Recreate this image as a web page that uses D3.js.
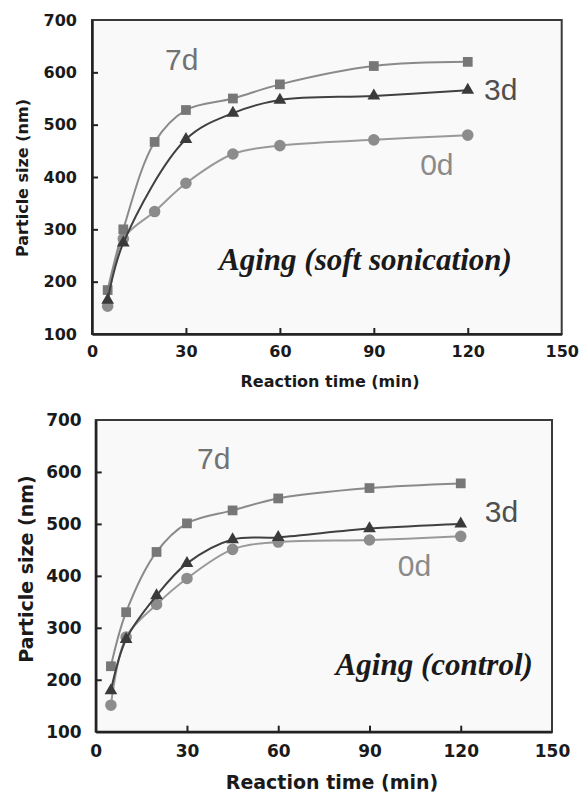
<!DOCTYPE html>
<html>
<head>
<meta charset="utf-8">
<script src="https://cdn.jsdelivr.net/npm/d3@7"></script>
<style>
  body { margin: 0; background: #fff; }
  svg { display: block; }
</style>
</head>
<body>
<div id="chart"></div>
<script>
// Reaction times (min)
const times = [5, 10, 20, 30, 45, 60, 90, 120]
const timesSoft3d = [5, 10, 30, 45, 60, 90, 120]   // no 20 min point for 3d in the soft sonication run

// Particle size (nm), aging with soft sonication
const soft7d = [184, 300, 467, 528, 550, 577, 612, 620]
const soft3d = [165, 274, 472, 522, 547, 555, 566]
const soft0d = [153, 282, 334, 388, 444, 460, 471, 480]

// Particle size (nm), aging control
const ctrl7d = [226, 330, 446, 501, 526, 549, 569, 578]
const ctrl3d = [179, 278, 362, 424, 470, 474, 491, 500]
const ctrl0d = [151, 282, 345, 395, 451, 465, 469, 476]

// Axis ticks
const xTicks = [0, 30, 60, 90, 120, 150]
const yTicks = [100, 200, 300, 400, 500, 600, 700]

const WIDTH = 581
const HEIGHT = 792
const FONT = "'DejaVu Sans', Verdana, sans-serif"

let svg = d3.select("#chart").append("svg")
    .attr("width", WIDTH)
    .attr("height", HEIGHT)

// series look: shape, marker colour, line colour
const STYLE = {
    "7d": {symbol: d3.symbolSquare,   size: 95,  fill: "#777", line: "#8a8a8a", label: "#727272"},
    "3d": {symbol: d3.symbolTriangle, size: 70,  fill: "#3a3a3a", line: "#404040", label: "#4f4f4f"},
    "0d": {symbol: d3.symbolCircle,   size: 105, fill: "#8c8c8c", line: "#999", label: "#8a8a8a"}
}

function drawPanel(p) {
    let xScale = d3.scaleLinear().domain([0, 150]).range([p.left, p.right])
    let yScale = d3.scaleLinear().domain([100, 700]).range([p.bottom, p.top])

    let g = svg.append("g")

    // plot area background + frame
    g.append("rect")
        .attr("x", p.left).attr("y", p.top)
        .attr("width", p.right - p.left).attr("height", p.bottom - p.top)
        .style("fill", "#f9f9f9")
        .style("stroke", "#3a3a3a")
        .style("stroke-width", 2)

    // axes, ticks pointing inwards
    let xAxis = g.append("g")
        .attr("transform", "translate(0," + p.bottom + ")")
        .call(d3.axisBottom(xScale).tickValues(xTicks).tickSizeInner(-6).tickSizeOuter(0).tickPadding(p.xPad))
    let yAxis = g.append("g")
        .attr("transform", "translate(" + p.left + ",0)")
        .call(d3.axisLeft(yScale).tickValues(yTicks).tickSizeInner(-6).tickSizeOuter(0).tickPadding(p.yPad))

    for (let ax of [xAxis, yAxis]) {
        ax.select(".domain").style("stroke", "#222").style("stroke-width", 2.5)
        ax.selectAll(".tick line").style("stroke", "#222").style("stroke-width", 2)
        ax.selectAll(".tick text")
            .style("font-family", FONT)
            .style("font-weight", "bold")
            .style("font-size", p.tickFont + "px")
            .style("fill", "#1a1a1a")
    }
    // hide the ticks that sit on the frame corners
    xAxis.selectAll(".tick").filter(d => d == 0 || d == 150).select("line").remove()
    yAxis.selectAll(".tick").filter(d => d == 100 || d == 700).select("line").remove()

    // axis titles
    g.append("text")
        .attr("x", p.xTitle[0]).attr("y", p.xTitle[1])
        .attr("text-anchor", "middle")
        .style("font-family", FONT).style("font-weight", "bold")
        .style("font-size", p.titleFont + "px").style("fill", "#1a1a1a")
        .text("Reaction time (min)")
    g.append("text")
        .attr("transform", "translate(" + p.yTitle[0] + "," + p.yTitle[1] + ") rotate(-90)")
        .attr("text-anchor", "middle")
        .style("font-family", FONT).style("font-weight", "bold")
        .style("font-size", p.titleFont + "px").style("fill", "#1a1a1a")
        .text("Particle size (nm)")

    let line = d3.line()
        .x(d => xScale(d.t))
        .y(d => yScale(d.v))
        .curve(d3.curveCatmullRom)

    // draw series: lines first, then markers (0d at the back)
    for (let s of p.series) {
        let st = STYLE[s.name]
        let pts = s.t.map((t, i) => ({t: t, v: s.v[i]}))
        g.append("path")
            .datum(pts)
            .attr("d", line)
            .style("fill", "none")
            .style("stroke", st.line)
            .style("stroke-width", 2)
        g.selectAll(null)
            .data(pts)
            .enter()
            .append("path")
                .attr("transform", d => "translate(" + xScale(d.t) + "," + yScale(d.v) + ")")
                .attr("d", d3.symbol().type(st.symbol).size(st.size))
                .style("fill", st.fill)
    }

    // series labels
    for (let l of p.labels) {
        g.append("text")
            .attr("x", xScale(l.t)).attr("y", yScale(l.v))
            .style("font-family", "'Liberation Sans', Arial, sans-serif")
            .style("font-size", "30px")
            .style("fill", STYLE[l.name].label)
            .text(l.name)
    }

    // panel annotation
    g.append("text")
        .attr("x", xScale(p.note.t)).attr("y", yScale(p.note.v))
        .attr("text-anchor", "end")
        .style("font-family", "'Liberation Serif', 'Times New Roman', serif")
        .style("font-weight", "bold").style("font-style", "italic")
        .style("font-size", p.noteFont + "px")
        .style("fill", "#1a1a1a")
        .text(p.note.text)
}

// Top: soft sonication
drawPanel({
    left: 92, right: 561.7, top: 20, bottom: 334,
    xPad: 12, yPad: 15, tickFont: 16, titleFont: 16,
    xTitle: [330, 387], yTitle: [28, 178],
    series: [
        {name: "0d", t: times, v: soft0d},
        {name: "7d", t: times, v: soft7d},
        {name: "3d", t: timesSoft3d, v: soft3d}
    ],
    labels: [
        {name: "7d", t: 23.3, v: 604},
        {name: "3d", t: 125.2, v: 547},
        {name: "0d", t: 104.8, v: 404}
    ],
    note: {text: "Aging (soft sonication)", t: 134.1, v: 222},
    noteFont: 31
})

// Bottom: control
drawPanel({
    left: 95.7, right: 552, top: 420, bottom: 731.7,
    xPad: 13, yPad: 14, tickFont: 17, titleFont: 19,
    xTitle: [332, 789], yTitle: [33, 569],
    series: [
        {name: "0d", t: times, v: ctrl0d},
        {name: "7d", t: times, v: ctrl7d},
        {name: "3d", t: times, v: ctrl3d}
    ],
    labels: [
        {name: "7d", t: 33.3, v: 605},
        {name: "3d", t: 127.9, v: 504},
        {name: "0d", t: 99.3, v: 399}
    ],
    note: {text: "Aging (control)", t: 143.7, v: 209},
    noteFont: 31
})
</script>
</body>
</html>
